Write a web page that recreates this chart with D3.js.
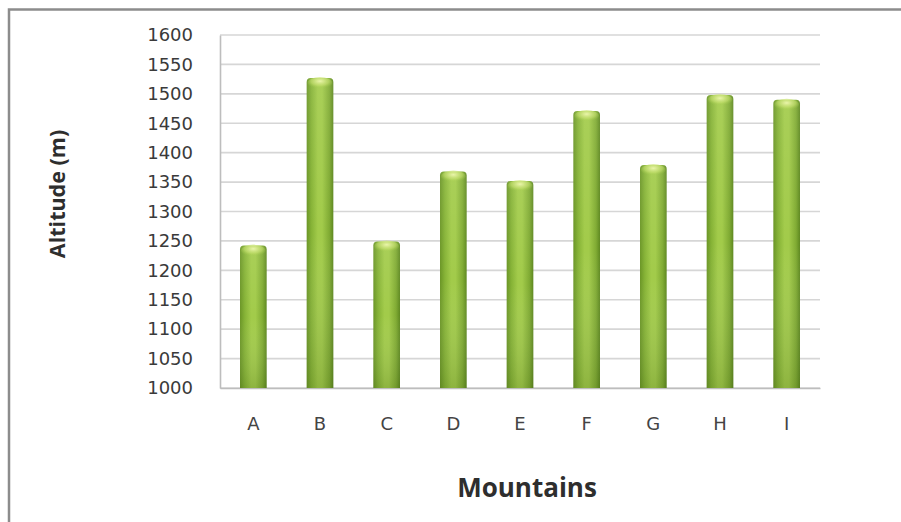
<!DOCTYPE html>
<html>
<head>
<meta charset="utf-8">
<script src="https://cdn.jsdelivr.net/npm/d3@7"></script>
<style>
  html, body { margin: 0; padding: 0; background: #fff; }
  svg { display: block; }
</style>
</head>
<body>
<svg id="chart" width="901" height="522"></svg>
<script>
// Mountain altitudes (m)
const mountains = ["A", "B", "C", "D", "E", "F", "G", "H", "I"];
const altitudes = [1242, 1527, 1249, 1368, 1352, 1471, 1379, 1498, 1490];
const yTicks = [1000, 1050, 1100, 1150, 1200, 1250, 1300, 1350, 1400, 1450, 1500, 1550, 1600];
const xTitle = "Mountains";
const yTitle = "Altitude (m)";

const svg = d3.select("#chart");
const W = 901, H = 522;
const plot = { left: 220, right: 820, top: 35, bottom: 388 };

// outer frame
svg.append("rect")
  .attr("x", 9).attr("y", 9.5)
  .attr("width", W + 20).attr("height", H + 20)
  .attr("fill", "none").attr("stroke", "#8c8c8c").attr("stroke-width", 2.5);

const x = d3.scaleBand().domain(mountains).range([plot.left, plot.right]).paddingInner(0.6).paddingOuter(0.3);
const y = d3.scaleLinear().domain([1000, 1600]).range([plot.bottom, plot.top]);

const defs = svg.append("defs");
const body = defs.append("linearGradient").attr("id", "barBody").attr("x1", 0).attr("x2", 1).attr("y1", 0).attr("y2", 0);
[[0, "#6a9526"], [0.18, "#86b336"], [0.42, "#a2cb4a"], [0.58, "#a2cb4a"], [0.85, "#80ab33"], [1, "#5e8820"]]
  .forEach(([o, c]) => body.append("stop").attr("offset", o).attr("stop-color", c));
const shade = defs.append("linearGradient").attr("id", "barShade").attr("x1", 0).attr("x2", 0).attr("y1", 0).attr("y2", 1);
[[0, "#ffffff", 0.08], [0.5, "#ffffff", 0], [1, "#2f4a0c", 0.18]]
  .forEach(([o, c, a]) => shade.append("stop").attr("offset", o).attr("stop-color", c).attr("stop-opacity", a));
const cap = defs.append("radialGradient").attr("id", "barCap").attr("cx", 0.5).attr("cy", 0.35).attr("r", 0.6);
[[0, "#eef7b0", 0.95], [0.6, "#c8e272", 0.6], [1, "#a2cb4a", 0]]
  .forEach(([o, c, a]) => cap.append("stop").attr("offset", o).attr("stop-color", c).attr("stop-opacity", a));

// gridlines
const grid = svg.append("g");
grid.selectAll("line").data(yTicks).join("line")
  .attr("x1", plot.left).attr("x2", plot.right)
  .attr("y1", d => y(d)).attr("y2", d => y(d))
  .attr("stroke", "#d6d6d6").attr("stroke-width", 1.6);

// y axis
const yAxis = svg.append("g").attr("transform", `translate(${plot.left},0)`)
  .call(d3.axisLeft(y).tickValues(yTicks).tickFormat(d3.format("d")).tickSize(0).tickPadding(27));
yAxis.select(".domain").attr("stroke", "#bdbdbd").attr("stroke-width", 1.6);
yAxis.selectAll("text").style("font-family", "'DejaVu Sans'").style("font-size", "18px").attr("fill", "#3a3a3a");

// x axis
const xAxis = svg.append("g").attr("transform", `translate(0,${plot.bottom})`)
  .call(d3.axisBottom(x).tickSize(0).tickPadding(29));
xAxis.select(".domain").attr("stroke", "#bdbdbd").attr("stroke-width", 1.6);
xAxis.selectAll("text").style("font-family", "'DejaVu Sans'").style("font-size", "18px").attr("fill", "#444");

// bars
const bars = svg.append("g");
const data = mountains.map((m, i) => ({ m, v: altitudes[i] }));
const barPath = d => {
  const x0 = x(d.m), w = x.bandwidth(), y0 = y(d.v), y1 = y(1000), r = 4;
  return `M${x0},${y1}V${y0 + r}Q${x0},${y0} ${x0 + r},${y0}H${x0 + w - r}Q${x0 + w},${y0} ${x0 + w},${y0 + r}V${y1}Z`;
};
bars.selectAll("path.body").data(data).join("path").attr("class", "body")
  .attr("d", barPath).attr("fill", "url(#barBody)");
bars.selectAll("path.shade").data(data).join("path").attr("class", "shade")
  .attr("d", barPath).attr("fill", "url(#barShade)");
bars.selectAll("ellipse.cap").data(data).join("ellipse").attr("class", "cap")
  .attr("cx", d => x(d.m) + x.bandwidth() / 2)
  .attr("cy", d => y(d.v) + 5)
  .attr("rx", x.bandwidth() / 2 - 1).attr("ry", 6)
  .attr("fill", "url(#barCap)");

// titles
svg.append("text").attr("x", 527).attr("y", 497).attr("text-anchor", "middle")
  .style("font-family", "'Open Sans'").style("font-weight", "bold").style("font-size", "26px")
  .attr("fill", "#2e2e2e").text(xTitle);
svg.append("text").attr("transform", "translate(65,194) rotate(-90)").attr("text-anchor", "middle")
  .style("font-family", "'Open Sans'").style("font-weight", "bold").style("font-size", "21.5px")
  .attr("fill", "#2e2e2e").text(yTitle);
</script>
</body>
</html>
